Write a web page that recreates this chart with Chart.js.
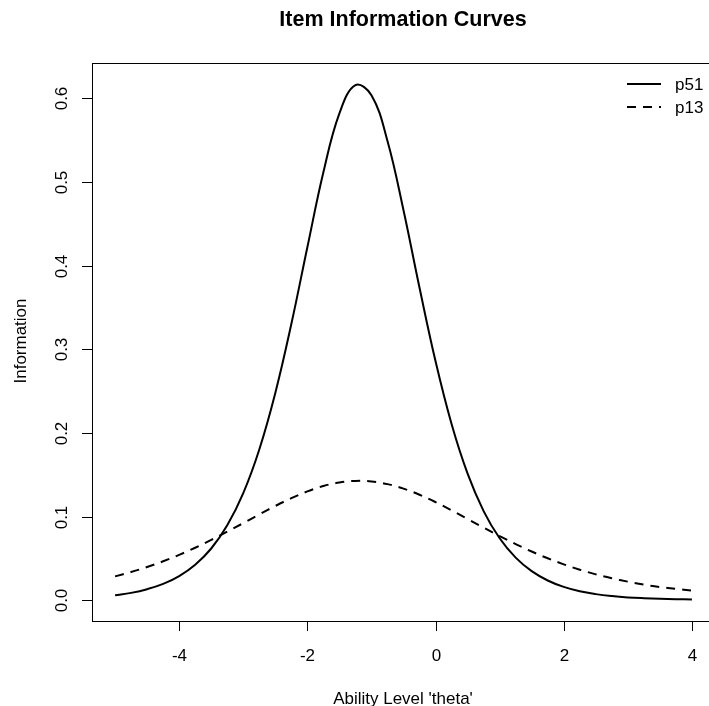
<!DOCTYPE html>
<html>
<head>
<meta charset="utf-8">
<script src="https://cdn.jsdelivr.net/npm/chart.js@4/dist/chart.umd.min.js"></script>
<style>
  html, body { margin: 0; padding: 0; background: #fff; overflow: hidden; }
  #wrap { width: 730px; height: 706px; }
</style>
</head>
<body>
<div id="wrap"><canvas id="iicChart" width="730" height="706"></canvas></div>
<script>
// ability levels and item information
var theta = [-5, -4.75, -4.5, -4.25, -4, -3.75, -3.5, -3.25, -3, -2.75, -2.5, -2.25, -2, -1.75, -1.5, -1.25,
             -1, -0.75, -0.5, -0.25, 0, 0.25, 0.5, 0.75, 1, 1.25, 1.5, 1.75, 2, 2.25, 2.5, 2.75, 3, 3.25, 3.5, 3.75, 4];

var infoP51 = [0.0062, 0.0091, 0.0135, 0.0198, 0.0292, 0.0427, 0.0621, 0.0898, 0.1283, 0.1804, 0.2479, 0.3302,
               0.4219, 0.5114, 0.5818, 0.6156, 0.6035, 0.5488, 0.4661, 0.3735, 0.2857, 0.2108, 0.1515, 0.1068,
               0.0743, 0.0512, 0.0350, 0.0239, 0.0162, 0.0110, 0.0076, 0.0053, 0.0037, 0.0027, 0.0020, 0.0016, 0.0013];

var infoP13 = [0.0288, 0.0340, 0.0400, 0.0468, 0.0545, 0.0630, 0.0723, 0.0822, 0.0924, 0.1028, 0.1129, 0.1222,
               0.1303, 0.1367, 0.1410, 0.1428, 0.1422, 0.1390, 0.1336, 0.1263, 0.1175, 0.1077, 0.0974, 0.0871,
               0.0770, 0.0674, 0.0585, 0.0504, 0.0432, 0.0368, 0.0312, 0.0265, 0.0225, 0.0190, 0.0161, 0.0138, 0.0118];

var xTicks = [-4, -2, 0, 2, 4];
var yTicks = [0.0, 0.1, 0.2, 0.3, 0.4, 0.5, 0.6];
var itemNames = ["p51", "p13"];

function toPoints(vals) {
  var pts = [];
  for (var i = 0; i < theta.length; i++) pts.push({x: theta[i], y: vals[i]});
  return pts;
}

var FONT = "'Liberation Sans', Arial, sans-serif";

// base-graphics style frame, ticks, labels, title and legend
var rFrame = {
  id: 'rFrame',
  afterDraw: function(chart) {
    var ctx = chart.ctx;
    var a = chart.chartArea;
    var xs = chart.scales.x, ys = chart.scales.y;
    ctx.save();
    ctx.strokeStyle = '#000';
    ctx.lineWidth = 1;
    ctx.strokeRect(a.left + 0.5, a.top + 0.5, a.right - a.left, a.bottom - a.top);

    ctx.fillStyle = '#000';
    ctx.font = '17px ' + FONT;
    // x ticks
    ctx.textAlign = 'center';
    ctx.textBaseline = 'middle';
    xTicks.forEach(function(t) {
      var px = Math.round(xs.getPixelForValue(t)) + 0.5;
      ctx.beginPath();
      ctx.moveTo(px, a.bottom);
      ctx.lineTo(px, a.bottom + 10);
      ctx.stroke();
      ctx.fillText(String(t), px, 656);
    });
    // y ticks, labels rotated like R's las=0
    yTicks.forEach(function(t) {
      var py = Math.round(ys.getPixelForValue(t)) + 0.5;
      ctx.beginPath();
      ctx.moveTo(a.left, py);
      ctx.lineTo(a.left - 10, py);
      ctx.stroke();
      ctx.save();
      ctx.translate(62, py);
      ctx.rotate(-Math.PI / 2);
      ctx.fillText(t.toFixed(1), 0, 0);
      ctx.restore();
    });

    // axis titles
    ctx.save();
    ctx.translate(21, 341);
    ctx.rotate(-Math.PI / 2);
    ctx.fillText('Information', 0, 0);
    ctx.restore();
    ctx.textBaseline = 'alphabetic';
    ctx.fillText("Ability Level 'theta'", 403, 704);

    // main title
    ctx.textBaseline = 'middle';
    ctx.font = 'bold 21.5px ' + FONT;
    ctx.fillText('Item Information Curves', 403, 20);

    // legend
    ctx.font = '17px ' + FONT;
    ctx.textAlign = 'left';
    ctx.lineWidth = 2;
    var rows = [84, 107];
    chart.data.datasets.forEach(function(ds, i) {
      ctx.setLineDash(ds.borderDash || []);
      ctx.beginPath();
      ctx.moveTo(627, rows[i]);
      ctx.lineTo(661, rows[i]);
      ctx.stroke();
      ctx.setLineDash([]);
      ctx.fillText(itemNames[i], 675, rows[i] + 1);
    });
    ctx.restore();
  }
};

var myChart = new Chart(document.getElementById('iicChart'), {
  type: 'line',
  data: {
    datasets: [
      {
        label: itemNames[0],
        data: toPoints(infoP51),
        borderColor: '#000',
        borderWidth: 2,
        pointRadius: 0,
        tension: 0.4,
        fill: false
      },
      {
        label: itemNames[1],
        data: toPoints(infoP13),
        borderColor: '#000',
        borderWidth: 2,
        borderDash: [9, 7],
        pointRadius: 0,
        tension: 0.4,
        fill: false
      }
    ]
  },
  options: {
    responsive: false,
    animation: false,
    layout: { padding: { left: 92, right: 15, top: 63, bottom: 85 } },
    plugins: { legend: { display: false }, tooltip: { enabled: false }, title: { display: false } },
    scales: {
      x: { type: 'linear', min: -5.36, max: 4.36, display: false },
      y: { type: 'linear', min: -0.0245, max: 0.642, display: false }
    }
  },
  plugins: [rFrame]
});
</script>
</body>
</html>
